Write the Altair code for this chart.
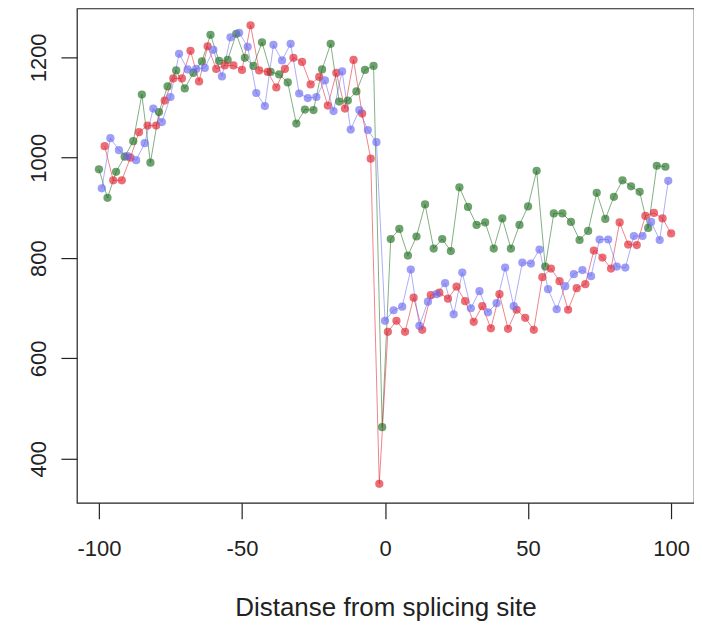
import altair as alt
import pandas as pd

# x positions of each series (step 3, offset per series)
green_x = list(range(-100, 99, 3))
blue_x = list(range(-99, 100, 3))
red_x = list(range(-98, 101, 3))

green_y = [977, 920, 972, 1002, 1033, 1126, 990, 1091, 1142, 1174,
           1138, 1169, 1192, 1245, 1193, 1195, 1247, 1199, 1183, 1230,
           1171, 1166, 1150, 1068, 1096, 1095, 1176, 1227, 1112, 1114,
           1132, 1175, 1183, 463, 838, 858, 805, 843, 907, 819,
           838, 814, 941, 902, 866, 871, 819, 879, 819, 866,
           903, 974, 783, 889, 889, 872, 836, 854, 930, 878,
           922, 955, 943, 932, 860, 984, 982]

blue_y = [939, 1039, 1015, 1003, 995, 1029, 1098, 1071, 1121, 1207,
          1176, 1177, 1179, 1215, 1162, 1240, 1249, 1221, 1129, 1103,
          1225, 1194, 1227, 1128, 1119, 1121, 1154, 1093, 1172, 1056,
          1095, 1055, 1031, 675, 696, 703, 777, 665, 713, 728,
          750, 688, 771, 700, 734, 692, 710, 781, 704, 791,
          789, 817, 738, 698, 744, 768, 776, 764, 837, 837,
          783, 781, 844, 844, 872, 836, 954]

red_y = [1023, 955, 955, 1000, 1051, 1064, 1064, 1114, 1158, 1158,
         1213, 1152, 1222, 1177, 1184, 1184, 1175, 1264, 1174, 1171,
         1140, 1177, 1199, 1191, 1146, 1161, 1104, 1169, 1098, 1195,
         1088, 998, 350, 653, 675, 653, 721, 657, 726, 731,
         719, 743, 714, 673, 704, 660, 728, 659, 697, 681,
         657, 762, 779, 754, 697, 740, 748, 815, 801, 779,
         871, 827, 826, 884, 890, 879, 849]

series_names = ["green", "red", "blue"]
series_colors = ["#1e6e1e", "#e0202e", "#6a6af2"]
x_ticks = [-100, -50, 0, 50, 100]
y_ticks = [400, 600, 800, 1000, 1200]

rows = []
for name, xs, ys in [("green", green_x, green_y), ("red", red_x, red_y), ("blue", blue_x, blue_y)]:
    for xv, yv in zip(xs, ys):
        rows.append({"s": name, "x": xv, "v": yv})
df = pd.DataFrame(rows)

FONT = "Liberation Sans"

base = alt.Chart(df).encode(
    x=alt.X("x:Q",
            scale=alt.Scale(domain=[-107.7, 108.0], nice=False, zero=False),
            axis=alt.Axis(values=x_ticks, title="Distanse from splicing site",
                          labelExpr="'' + datum.value",
                          labelPadding=37, labelBaseline="alphabetic",
                          titleY=105, titleBaseline="middle")),
    y=alt.Y("v:Q",
            scale=alt.Scale(domain=[312.4, 1297.5], nice=False, zero=False),
            axis=alt.Axis(values=y_ticks, title="", labelAngle=270,
                          labelExpr="'' + datum.value",
                          labelAlign="center", labelBaseline="alphabetic",
                          labelPadding=15)),
    color=alt.Color("s:N", scale=alt.Scale(domain=series_names, range=series_colors), legend=None),
)

lines = base.mark_line(strokeWidth=1, opacity=0.55).encode(order="x:Q")
points = base.mark_circle(size=68, opacity=0.65)

chart = alt.layer(lines, points).properties(
    width=618, height=495,
    autosize=alt.AutoSizeParams(type="none"),
    padding={"left": 69, "top": 0, "right": 0, "bottom": 119},
).configure_view(
    stroke="#222222", strokeWidth=1.2
).configure_axis(
    domain=False, grid=False, tickColor="#222222", tickWidth=1.2, tickSize=16,
    labelFont=FONT, labelFontSize=22, labelColor="#222222",
    titleFont=FONT, titleFontSize=26, titleFontWeight="normal", titleColor="#222222",
    labelFlush=False, labelOverlap=False,
)

chart.save("out.html", embed_options={"renderer": "svg", "actions": False})
